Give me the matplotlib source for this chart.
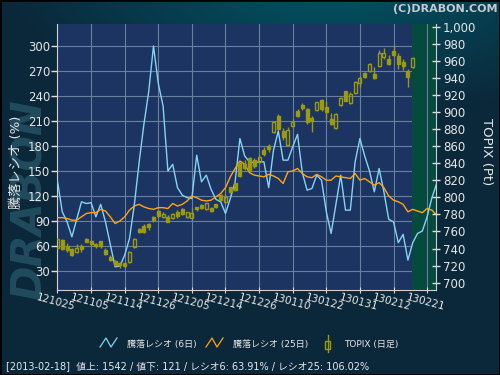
import numpy as np
import matplotlib.pyplot as plt
from matplotlib.lines import Line2D
from matplotlib.patches import Rectangle

plt.rcParams['font.family'] = ['DejaVu Sans', 'Noto Sans CJK JP']

# 日付ラベル (7営業日ごと)
dates = ['121025', '121105', '121114', '121126', '121205', '121214',
         '121226', '130110', '130122', '130131', '130212', '130221']

# 騰落レシオ (6日)
ratio6 = [138, 101, 89, 71, 92, 113, 111, 112, 95, 110,
          89, 62, 35, 36, 49, 69, 109, 160, 206, 245,
          300, 255, 228, 150, 158, 130, 121, 118, 117, 169,
          137, 145, 128, 116, 113, 99, 117, 137, 189, 168,
          161, 160, 161, 161, 130, 175, 198, 163, 163, 179,
          194, 148, 127, 129, 145, 139, 101, 75, 110, 145,
          103, 103, 161, 189, 168, 150, 125, 153, 125, 92,
          89, 64, 74, 43, 64, 75, 78, 95, 118, 135]

# 騰落レシオ (25日)
ratio25 = [94, 94, 93, 91, 91, 95, 99, 100, 100, 104,
           102, 95, 87, 90, 95, 103, 108, 110, 107, 105,
           104, 106, 106, 105, 111, 108, 110, 114, 120, 118,
           115, 114, 115, 119, 123, 130, 143, 153, 162, 158,
           148, 145, 144, 143, 146, 144, 141, 135, 149, 150,
           153, 147, 143, 142, 146, 143, 139, 139, 144, 143,
           142, 141, 147, 139, 141, 137, 133, 136, 130, 120,
           115, 113, 110, 101, 104, 102, 100, 105, 103, 97]

# TOPIX 日足
t_open = [741, 750, 743, 740, 736, 743, 751.2, 748.8, 745.3, 748.4,
          738.3, 730.5, 725.4, 723.4, 723.0, 723.8, 741.4, 762.9, 766.4, 768.4,
          776.9, 784.0, 776.6, 777.3, 775.4, 783.2, 785.9, 777.3, 775.4, 789.1,
          791.0, 785.9, 787.1, 791.8, 802.7, 794.1, 811.7, 816.8, 839.8, 838.7,
          845.7, 843.7, 841.8, 855.6, 860.6, 876.3, 895.8, 878.2, 861.8, 884.1,
          900.9, 908.7, 903.6, 893.0, 902.4, 914.2, 906.3, 891.9, 880.9, 908.7,
          924.3, 910.2, 922.3, 934.1, 945.4, 948.5, 944.6, 954.4, 964.9, 962.2,
          971.2, 965.3, 958.3, 947.7, 952.4]
t_close = [751, 739.5, 738, 732, 741, 739.5, 748.0, 744.9, 743.0, 742.6,
           733.6, 726.6, 720.7, 720.7, 719.9, 736.3, 750.8, 759.8, 759.8, 765.6,
           773.4, 778.1, 780.9, 770.7, 780.1, 778.5, 780.1, 782.4, 781.2, 786.3,
           787.9, 793.0, 784.4, 789.1, 796.9, 800.8, 805.9, 808.6, 825.4, 834.8,
           832.0, 836.7, 847.6, 850.9, 856.7, 888.8, 880.2, 870.4, 879.0, 888.8,
           895.8, 904.8, 888.0, 889.1, 911.4, 903.6, 899.7, 886.0, 897.7, 916.5,
           913.4, 921.2, 934.8, 939.5, 941.5, 956.3, 939.5, 968.8, 968.8, 956.3,
           967.3, 956.3, 954.4, 941.5, 963.4]
t_high = [752, 751, 746, 741, 745, 745.7, 752.7, 750.0, 746.1, 749.2,
          740.2, 732.4, 726.6, 724.6, 723.8, 737.5, 752.0, 764.4, 768.4, 770.3,
          778.5, 785.2, 782.4, 779.3, 781.2, 785.2, 787.9, 783.2, 787.1, 789.1,
          791.8, 793.7, 788.3, 792.6, 803.9, 803.5, 812.5, 817.6, 841.0, 843.7,
          847.6, 845.7, 849.6, 858.7, 862.6, 889.9, 897.7, 881.3, 882.1, 891.9,
          903.6, 911.0, 904.4, 895.8, 912.2, 915.3, 913.4, 898.5, 898.5, 918.0,
          925.1, 923.1, 936.0, 942.6, 947.3, 957.1, 953.2, 972.7, 975.1, 966.9,
          978.6, 968.8, 962.2, 950.5, 964.9]
t_low = [740, 738, 735.5, 731, 735, 736.3, 747.3, 744.1, 741.0, 740.2,
         732.4, 725.4, 719.5, 716.8, 718.7, 723.0, 740.2, 758.6, 757.8, 761.7,
         771.5, 777.3, 775.4, 770.7, 774.6, 776.2, 779.3, 776.2, 774.6, 784.0,
         786.3, 785.2, 782.4, 787.9, 795.7, 793.0, 804.7, 807.4, 824.2, 832.0,
         830.1, 834.0, 839.8, 848.9, 852.8, 875.5, 879.0, 867.3, 860.6, 882.1,
         893.8, 902.4, 886.0, 876.2, 901.6, 901.6, 891.9, 884.9, 880.2, 907.5,
         912.6, 909.5, 921.2, 929.0, 939.9, 947.3, 938.8, 953.2, 962.2, 955.2,
         966.1, 950.5, 949.3, 929.8, 951.6]

bg_col = '#1b3461'
green_col = '#054a3c'
grid_col = '#6a7ea0'
txt_col = '#e6e6e6'
cndl_col = '#9c9a10'
blue_col = '#87d3f2'
orange_col = '#ffa514'

fig = plt.figure(figsize=(5, 3.75), dpi=100)

# 背景グラデーション + ロゴ
bg = fig.add_axes([0, 0, 1, 1])
bg.set_zorder(-1)
bg.axis('off')
yy, xx = np.mgrid[0:375, 0:500]
d = np.sqrt((xx - 330) ** 2 + ((yy + 30) * 2.2) ** 2)
w = np.clip(1 - d / 330, 0, 1)
dark = np.array([11, 40, 58]) / 255
light = np.array([0, 88, 104]) / 255
img = dark + (light - dark) * w[..., None]
bg.imshow(img, extent=[0, 1, 0, 1], aspect='auto', origin='upper')
bg.set_xlim(0, 1)
bg.set_ylim(0, 1)
bg.text(30 / 500, 1 - 200 / 375, 'DRABON', rotation=90, fontsize=30,
        fontweight='bold', style='italic', color='#214c5d',
        ha='center', va='center', transform=bg.transAxes)

ax = fig.add_axes([57 / 500, 1 - 290 / 375, (436 - 57) / 500, (290 - 24) / 375])
ax.set_facecolor(bg_col)
ax.set_xlim(-0.1, 78.85)
ax.set_ylim(7.2, 326.4)

xt = np.arange(len(dates)) * 7
for v in range(30, 301, 30):
    ax.axhline(v, color=grid_col, lw=0.8, zorder=0.5)
ax.axvspan(73.85, 80, color=green_col, lw=0, zorder=1)
for t in xt:
    ax.axvline(t, color=grid_col, lw=0.8, zorder=1.5)

x_line = np.arange(len(ratio6))
ax.plot(x_line, ratio6, color=blue_col, lw=1.0, zorder=3)
ax.plot(np.arange(len(ratio25)), ratio25, color=orange_col, lw=1.0, zorder=3)

ax.set_yticks(range(30, 301, 30))
ax.tick_params(axis='y', direction='out', length=4, width=1, color='#dddddd',
               labelcolor=txt_col, labelsize=8.5, pad=1)
ax.set_xticks(xt)
ax.set_xticklabels(dates, rotation=-15, ha='center', va='top',
                   rotation_mode='anchor', fontsize=7.5, color=txt_col)
ax.tick_params(axis='x', direction='inout', length=4, color='#dddddd', pad=3)
for s in ['top', 'right']:
    ax.spines[s].set_visible(False)
for s in ['left', 'bottom']:
    ax.spines[s].set_color('#d0d0d0')

# TOPIX (右軸)
ax2 = ax.twinx()
ax2.set_ylim(691.4, 1003.2)
ax2.set_xlim(ax.get_xlim())
xc = np.arange(len(t_open))
for i in xc:
    o, c, h, l = t_open[i], t_close[i], t_high[i], t_low[i]
    top, bot = max(o, c), min(o, c)
    ax2.vlines(i, top, h, color=cndl_col, lw=1.0)
    ax2.vlines(i, l, bot, color=cndl_col, lw=1.0)
    if c > o:
        ax2.add_patch(Rectangle((i - 0.3, bot), 0.6, top - bot, facecolor='none',
                                edgecolor=cndl_col, lw=1.0))
    else:
        ax2.add_patch(Rectangle((i - 0.3, bot), 0.6, top - bot, facecolor=cndl_col,
                                edgecolor=cndl_col, lw=1.0))
ax2.set_yticks(range(700, 1001, 20))
ax2.yaxis.set_major_formatter(lambda v, p: f'{int(v):,}')
ax2.tick_params(axis='y', direction='inout', length=6, width=1, color='#dddddd',
                labelcolor=txt_col, labelsize=8.5, pad=2)
for s in ['top', 'left', 'bottom']:
    ax2.spines[s].set_visible(False)
ax2.spines['right'].set_color('#d0d0d0')

# 軸ラベル・著作権
fig.text(16 / 500, 1 - 162 / 375, '騰落レシオ (%)', rotation=90, fontsize=9.5,
         color=txt_col, ha='center', va='center')
fig.text(486 / 500, 1 - 152 / 375, 'TOPIX (Pt)', rotation=-90, fontsize=9.5,
         color=txt_col, ha='center', va='center')
fig.text(497 / 500, 1 - 9 / 375, '(C)DRABON.COM', fontsize=8, fontweight='bold',
         color='#c4ccd0', ha='right', va='center')

# 凡例
def fx(px):
    return px / 500

def fy(py):
    return 1 - py / 375

fig.lines.append(Line2D([fx(100), fx(106), fx(111), fx(117)],
                        [fy(347), fy(338), fy(347), fy(338)],
                        color=blue_col, lw=0.9, transform=fig.transFigure))
fig.text(fx(127), fy(344), '騰落レシオ (6日)', fontsize=6.5, color=txt_col,
         va='center', ha='left')
fig.lines.append(Line2D([fx(206), fx(212), fx(217), fx(223)],
                        [fy(347), fy(338), fy(347), fy(338)],
                        color=orange_col, lw=0.9, transform=fig.transFigure))
fig.text(fx(233), fy(344), '騰落レシオ (25日)', fontsize=6.5, color=txt_col,
         va='center', ha='left')
fig.lines.append(Line2D([fx(327.5), fx(327.5)], [fy(335), fy(352)], color=cndl_col,
                        lw=1.0, transform=fig.transFigure))
fig.patches.append(Rectangle((fx(325), fy(349)), 5 / 500, 8 / 375, facecolor='#0b2a3c',
                             edgecolor=cndl_col, lw=1.0, transform=fig.transFigure))
fig.text(fx(344), fy(344), 'TOPIX (日足)', fontsize=6.5, color=txt_col,
         va='center', ha='left')

fig.text(fx(6), fy(366), '[2013-02-18]  値上: 1542 / 値下: 121 / レシオ6: 63.91% / レシオ25: 106.02%',
         fontsize=7, color=txt_col, va='center', ha='left')

fig.patches.append(Rectangle((0, 0), 1, 1, fill=False, edgecolor='black', lw=2,
                             transform=fig.transFigure))

fig.savefig('out.png', dpi=100)
